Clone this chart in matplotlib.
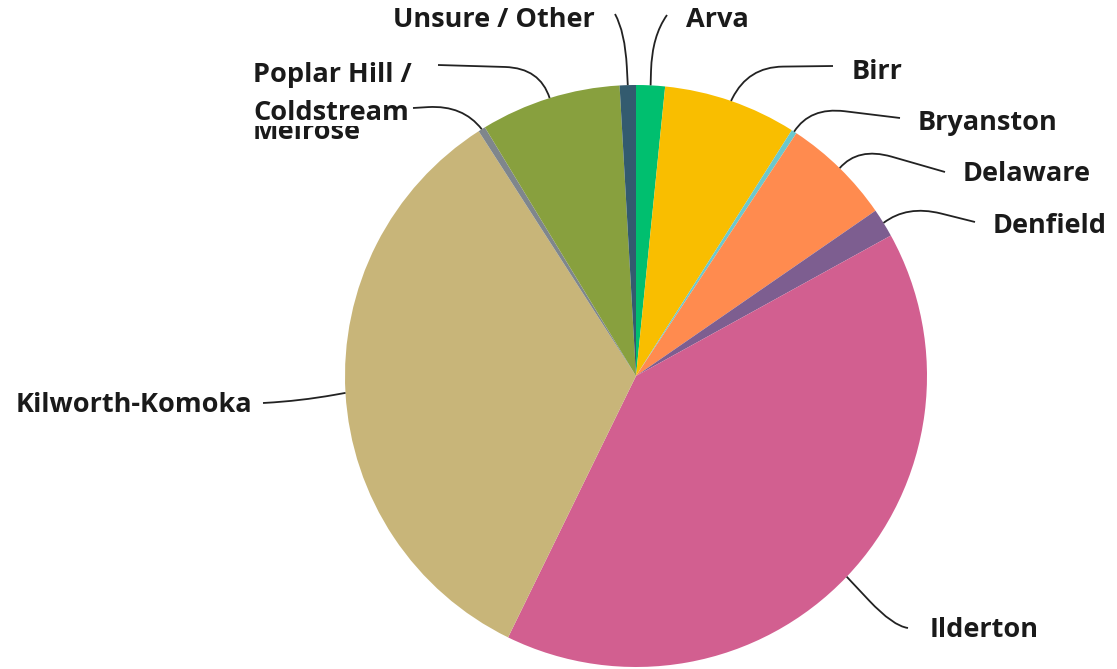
import numpy as np
import matplotlib
matplotlib.use('Agg')
from matplotlib import pyplot as plt
from matplotlib.path import Path
from matplotlib.patches import PathPatch

plt.rcParams['font.family'] = ['Open Sans', 'DejaVu Sans']

labels = ['Arva', 'Birr', 'Bryanston', 'Delaware', 'Denfield', 'Ilderton',
          'Kilworth-Komoka', 'Melrose', 'Poplar Hill /\nColdstream', 'Unsure / Other']
values = [1.6, 7.4, 0.3, 6.1, 1.6, 40.3, 33.7, 0.4, 7.8, 0.9]
colors = ['#00BF6F', '#F9BE00', '#6BC8CD', '#FF8B4F', '#7D5E90', '#D25F90',
          '#C8B579', '#7F868C', '#88A03E', '#335B6F']

W, H = 1117, 669
CX, CY, R = 636, 376, 291


def px(x, y):
    # pixel position -> data coords (pie radius = 1)
    return (x - CX) / R, (CY - y) / R


# label layout: text anchor (px), alignment, leader elbow (px), leader end (px)
layout = {
    'Arva': ((686, 20), 'left', (652, 36), (667, 15)),
    'Birr': ((852, 72), 'left', (748, 67), (833, 66)),
    'Bryanston': ((918, 123), 'left', (810, 107), (900, 118)),
    'Delaware': ((963, 174), 'left', (858, 147), (945, 172)),
    'Denfield': ((993, 226), 'left', (907, 205), (975, 222)),
    'Ilderton': ((930, 630), 'left', (893, 626), (908, 628)),
    'Kilworth-Komoka': ((252, 405), 'right', (300, 401), (263, 403)),
    'Melrose': ((253, 132), 'left', (463, 105), (413, 108)),
    'Poplar Hill /\nColdstream': ((253, 94), 'left', (540, 68), (438, 65)),
    'Unsure / Other': ((595, 20), 'right', (625, 32), (615, 14)),
}

fig = plt.figure(figsize=(W / 100, H / 100), dpi=100)
ax = fig.add_axes([0, 0, 1, 1])
wedges, _ = ax.pie(values, colors=colors, startangle=90, counterclock=False,
                   radius=1, center=(0, 0), wedgeprops=dict(linewidth=0))
ax.set_xlim(-CX / R, (W - CX) / R)
ax.set_ylim((CY - H) / R, CY / R)
ax.set_aspect('equal')
ax.axis('off')

for w, lab in zip(wedges, labels):
    mid = np.deg2rad((w.theta1 + w.theta2) / 2)
    p0 = np.array([np.cos(mid), np.sin(mid)])
    (tx, ty), ha, elbow, end = layout[lab]
    p1 = np.array(px(*elbow))
    p2 = np.array(px(*end))
    # rounded corner at the elbow
    a = p1 + (p0 - p1) * min(1.0, 0.12 / max(np.linalg.norm(p0 - p1), 1e-6))
    b = p1 + (p2 - p1) * min(1.0, 0.12 / max(np.linalg.norm(p2 - p1), 1e-6))
    path = Path([p0, a, p1, b, p2],
                [Path.MOVETO, Path.LINETO, Path.CURVE3, Path.CURVE3, Path.LINETO])
    ax.add_patch(PathPatch(path, fill=False, color='#222222', lw=1.3, zorder=3))
    z = 5 if lab.startswith('Poplar') else 4
    bbox = dict(facecolor='white', edgecolor='none', pad=0) if z == 5 else None
    ax.text(*px(tx, ty), lab, ha=ha, va='center', fontsize=19.5, fontweight='bold',
            color='#1a1a1a', linespacing=1.6, zorder=z, bbox=bbox)

fig.savefig('out.png', dpi=100)
